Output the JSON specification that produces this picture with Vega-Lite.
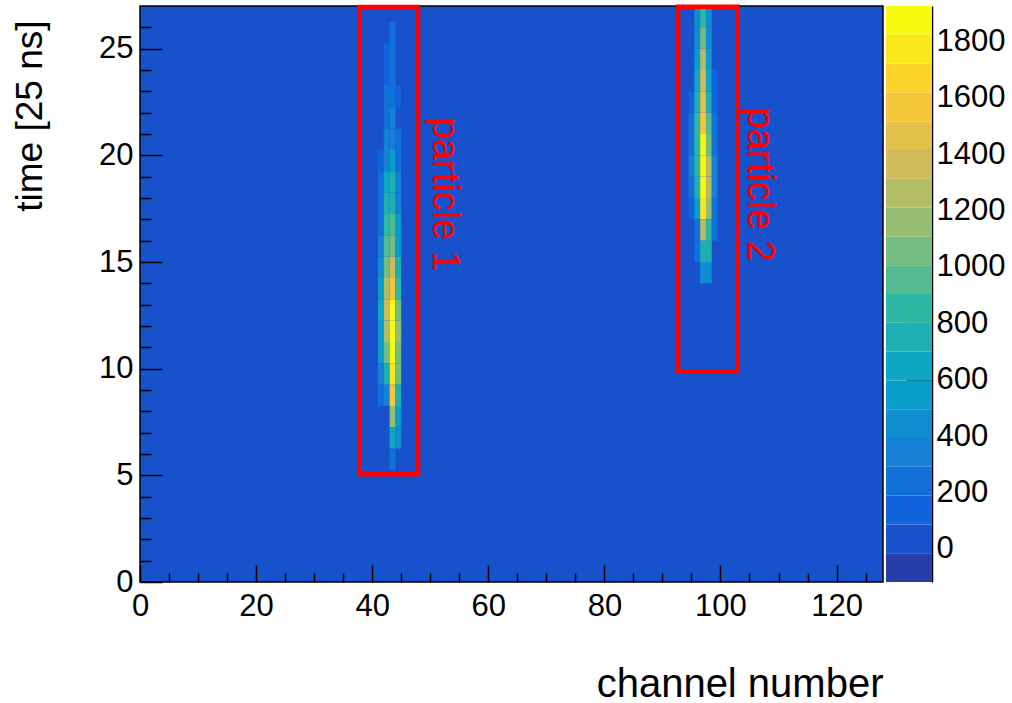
{
  "$schema": "https://vega.github.io/schema/vega-lite/v6.json",
  "background": "white",
  "padding": {"left": 10, "top": 3, "right": 12, "bottom": 6},
  "spacing": 2,
  "config": {
    "font": "Liberation Sans",
    "axis": {
      "labelFont": "Liberation Sans",
      "labelFontSize": 31,
      "labelColor": "#000000",
      "tickColor": "#000000",
      "tickWidth": 1.5,
      "domain": false,
      "grid": false,
      "titleFont": "Liberation Sans",
      "titleFontSize": 38,
      "titleFontWeight": "normal",
      "titleColor": "#000000",
      "labelFlush": false,
      "labelOverlap": false
    }
  },
  "datasets": {
    "cells": [
      {"ch_lo": 43, "ch_hi": 44, "t_lo": 25.25, "t_hi": 26.25, "adc": 230},
      {"ch_lo": 42, "ch_hi": 43, "t_lo": 24.25, "t_hi": 25.25, "adc": 120},
      {"ch_lo": 43, "ch_hi": 44, "t_lo": 24.25, "t_hi": 25.25, "adc": 255},
      {"ch_lo": 42, "ch_hi": 43, "t_lo": 23.25, "t_hi": 24.25, "adc": 150},
      {"ch_lo": 43, "ch_hi": 44, "t_lo": 23.25, "t_hi": 24.25, "adc": 270},
      {"ch_lo": 42, "ch_hi": 43, "t_lo": 22.25, "t_hi": 23.25, "adc": 205},
      {"ch_lo": 43, "ch_hi": 44, "t_lo": 22.25, "t_hi": 23.25, "adc": 280},
      {"ch_lo": 44, "ch_hi": 45, "t_lo": 22.25, "t_hi": 23.25, "adc": 110},
      {"ch_lo": 42, "ch_hi": 43, "t_lo": 21.25, "t_hi": 22.25, "adc": 265},
      {"ch_lo": 43, "ch_hi": 44, "t_lo": 21.25, "t_hi": 22.25, "adc": 320},
      {"ch_lo": 42, "ch_hi": 43, "t_lo": 20.25, "t_hi": 21.25, "adc": 330},
      {"ch_lo": 43, "ch_hi": 44, "t_lo": 20.25, "t_hi": 21.25, "adc": 370},
      {"ch_lo": 44, "ch_hi": 45, "t_lo": 20.25, "t_hi": 21.25, "adc": 215},
      {"ch_lo": 41, "ch_hi": 42, "t_lo": 19.25, "t_hi": 20.25, "adc": 130},
      {"ch_lo": 42, "ch_hi": 43, "t_lo": 19.25, "t_hi": 20.25, "adc": 360},
      {"ch_lo": 43, "ch_hi": 44, "t_lo": 19.25, "t_hi": 20.25, "adc": 580},
      {"ch_lo": 44, "ch_hi": 45, "t_lo": 19.25, "t_hi": 20.25, "adc": 250},
      {"ch_lo": 41, "ch_hi": 42, "t_lo": 18.25, "t_hi": 19.25, "adc": 200},
      {"ch_lo": 42, "ch_hi": 43, "t_lo": 18.25, "t_hi": 19.25, "adc": 680},
      {"ch_lo": 43, "ch_hi": 44, "t_lo": 18.25, "t_hi": 19.25, "adc": 760},
      {"ch_lo": 44, "ch_hi": 45, "t_lo": 18.25, "t_hi": 19.25, "adc": 345},
      {"ch_lo": 41, "ch_hi": 42, "t_lo": 17.25, "t_hi": 18.25, "adc": 235},
      {"ch_lo": 42, "ch_hi": 43, "t_lo": 17.25, "t_hi": 18.25, "adc": 735},
      {"ch_lo": 43, "ch_hi": 44, "t_lo": 17.25, "t_hi": 18.25, "adc": 790},
      {"ch_lo": 44, "ch_hi": 45, "t_lo": 17.25, "t_hi": 18.25, "adc": 375},
      {"ch_lo": 41, "ch_hi": 42, "t_lo": 16.25, "t_hi": 17.25, "adc": 275},
      {"ch_lo": 42, "ch_hi": 43, "t_lo": 16.25, "t_hi": 17.25, "adc": 880},
      {"ch_lo": 43, "ch_hi": 44, "t_lo": 16.25, "t_hi": 17.25, "adc": 990},
      {"ch_lo": 44, "ch_hi": 45, "t_lo": 16.25, "t_hi": 17.25, "adc": 560},
      {"ch_lo": 41, "ch_hi": 42, "t_lo": 15.25, "t_hi": 16.25, "adc": 310},
      {"ch_lo": 42, "ch_hi": 43, "t_lo": 15.25, "t_hi": 16.25, "adc": 960},
      {"ch_lo": 43, "ch_hi": 44, "t_lo": 15.25, "t_hi": 16.25, "adc": 1090},
      {"ch_lo": 44, "ch_hi": 45, "t_lo": 15.25, "t_hi": 16.25, "adc": 590},
      {"ch_lo": 41, "ch_hi": 42, "t_lo": 14.25, "t_hi": 15.25, "adc": 420},
      {"ch_lo": 42, "ch_hi": 43, "t_lo": 14.25, "t_hi": 15.25, "adc": 1070},
      {"ch_lo": 43, "ch_hi": 44, "t_lo": 14.25, "t_hi": 15.25, "adc": 1390},
      {"ch_lo": 44, "ch_hi": 45, "t_lo": 14.25, "t_hi": 15.25, "adc": 770},
      {"ch_lo": 41, "ch_hi": 42, "t_lo": 13.25, "t_hi": 14.25, "adc": 530},
      {"ch_lo": 42, "ch_hi": 43, "t_lo": 13.25, "t_hi": 14.25, "adc": 1280},
      {"ch_lo": 43, "ch_hi": 44, "t_lo": 13.25, "t_hi": 14.25, "adc": 1600},
      {"ch_lo": 44, "ch_hi": 45, "t_lo": 13.25, "t_hi": 14.25, "adc": 860},
      {"ch_lo": 41, "ch_hi": 42, "t_lo": 12.25, "t_hi": 13.25, "adc": 620},
      {"ch_lo": 42, "ch_hi": 43, "t_lo": 12.25, "t_hi": 13.25, "adc": 1340},
      {"ch_lo": 43, "ch_hi": 44, "t_lo": 12.25, "t_hi": 13.25, "adc": 1920},
      {"ch_lo": 44, "ch_hi": 45, "t_lo": 12.25, "t_hi": 13.25, "adc": 1040},
      {"ch_lo": 41, "ch_hi": 42, "t_lo": 11.25, "t_hi": 12.25, "adc": 570},
      {"ch_lo": 42, "ch_hi": 43, "t_lo": 11.25, "t_hi": 12.25, "adc": 1250},
      {"ch_lo": 43, "ch_hi": 44, "t_lo": 11.25, "t_hi": 12.25, "adc": 1900},
      {"ch_lo": 44, "ch_hi": 45, "t_lo": 11.25, "t_hi": 12.25, "adc": 1180},
      {"ch_lo": 41, "ch_hi": 42, "t_lo": 10.25, "t_hi": 11.25, "adc": 520},
      {"ch_lo": 42, "ch_hi": 43, "t_lo": 10.25, "t_hi": 11.25, "adc": 1030},
      {"ch_lo": 43, "ch_hi": 44, "t_lo": 10.25, "t_hi": 11.25, "adc": 1860},
      {"ch_lo": 44, "ch_hi": 45, "t_lo": 10.25, "t_hi": 11.25, "adc": 1090},
      {"ch_lo": 41, "ch_hi": 42, "t_lo": 9.25, "t_hi": 10.25, "adc": 380},
      {"ch_lo": 42, "ch_hi": 43, "t_lo": 9.25, "t_hi": 10.25, "adc": 780},
      {"ch_lo": 43, "ch_hi": 44, "t_lo": 9.25, "t_hi": 10.25, "adc": 1790},
      {"ch_lo": 44, "ch_hi": 45, "t_lo": 9.25, "t_hi": 10.25, "adc": 1020},
      {"ch_lo": 41, "ch_hi": 42, "t_lo": 8.25, "t_hi": 9.25, "adc": 250},
      {"ch_lo": 42, "ch_hi": 43, "t_lo": 8.25, "t_hi": 9.25, "adc": 330},
      {"ch_lo": 43, "ch_hi": 44, "t_lo": 8.25, "t_hi": 9.25, "adc": 1560},
      {"ch_lo": 44, "ch_hi": 45, "t_lo": 8.25, "t_hi": 9.25, "adc": 720},
      {"ch_lo": 43, "ch_hi": 44, "t_lo": 7.25, "t_hi": 8.25, "adc": 1180},
      {"ch_lo": 44, "ch_hi": 45, "t_lo": 7.25, "t_hi": 8.25, "adc": 540},
      {"ch_lo": 43, "ch_hi": 44, "t_lo": 6.25, "t_hi": 7.25, "adc": 660},
      {"ch_lo": 44, "ch_hi": 45, "t_lo": 6.25, "t_hi": 7.25, "adc": 470},
      {"ch_lo": 43, "ch_hi": 44, "t_lo": 5.25, "t_hi": 6.25, "adc": 260},

      {"ch_lo": 95.5, "ch_hi": 96.5, "t_lo": 26, "t_hi": 27, "adc": 430},
      {"ch_lo": 96.5, "ch_hi": 97.5, "t_lo": 26, "t_hi": 27, "adc": 870},
      {"ch_lo": 97.5, "ch_hi": 98.5, "t_lo": 26, "t_hi": 27, "adc": 460},
      {"ch_lo": 95.5, "ch_hi": 96.5, "t_lo": 25, "t_hi": 26, "adc": 470},
      {"ch_lo": 96.5, "ch_hi": 97.5, "t_lo": 25, "t_hi": 26, "adc": 1040},
      {"ch_lo": 97.5, "ch_hi": 98.5, "t_lo": 25, "t_hi": 26, "adc": 480},
      {"ch_lo": 95.5, "ch_hi": 96.5, "t_lo": 24, "t_hi": 25, "adc": 540},
      {"ch_lo": 96.5, "ch_hi": 97.5, "t_lo": 24, "t_hi": 25, "adc": 1250},
      {"ch_lo": 97.5, "ch_hi": 98.5, "t_lo": 24, "t_hi": 25, "adc": 560},
      {"ch_lo": 95.5, "ch_hi": 96.5, "t_lo": 23, "t_hi": 24, "adc": 640},
      {"ch_lo": 96.5, "ch_hi": 97.5, "t_lo": 23, "t_hi": 24, "adc": 1390},
      {"ch_lo": 97.5, "ch_hi": 98.5, "t_lo": 23, "t_hi": 24, "adc": 670},
      {"ch_lo": 98.5, "ch_hi": 99.5, "t_lo": 23, "t_hi": 24, "adc": 150},
      {"ch_lo": 94.5, "ch_hi": 95.5, "t_lo": 22, "t_hi": 23, "adc": 130},
      {"ch_lo": 95.5, "ch_hi": 96.5, "t_lo": 22, "t_hi": 23, "adc": 760},
      {"ch_lo": 96.5, "ch_hi": 97.5, "t_lo": 22, "t_hi": 23, "adc": 1500},
      {"ch_lo": 97.5, "ch_hi": 98.5, "t_lo": 22, "t_hi": 23, "adc": 780},
      {"ch_lo": 98.5, "ch_hi": 99.5, "t_lo": 22, "t_hi": 23, "adc": 170},
      {"ch_lo": 94.5, "ch_hi": 95.5, "t_lo": 21, "t_hi": 22, "adc": 220},
      {"ch_lo": 95.5, "ch_hi": 96.5, "t_lo": 21, "t_hi": 22, "adc": 850},
      {"ch_lo": 96.5, "ch_hi": 97.5, "t_lo": 21, "t_hi": 22, "adc": 1590},
      {"ch_lo": 97.5, "ch_hi": 98.5, "t_lo": 21, "t_hi": 22, "adc": 960},
      {"ch_lo": 98.5, "ch_hi": 99.5, "t_lo": 21, "t_hi": 22, "adc": 240},
      {"ch_lo": 94.5, "ch_hi": 95.5, "t_lo": 20, "t_hi": 21, "adc": 260},
      {"ch_lo": 95.5, "ch_hi": 96.5, "t_lo": 20, "t_hi": 21, "adc": 890},
      {"ch_lo": 96.5, "ch_hi": 97.5, "t_lo": 20, "t_hi": 21, "adc": 1880},
      {"ch_lo": 97.5, "ch_hi": 98.5, "t_lo": 20, "t_hi": 21, "adc": 1080},
      {"ch_lo": 98.5, "ch_hi": 99.5, "t_lo": 20, "t_hi": 21, "adc": 270},
      {"ch_lo": 94.5, "ch_hi": 95.5, "t_lo": 19, "t_hi": 20, "adc": 310},
      {"ch_lo": 95.5, "ch_hi": 96.5, "t_lo": 19, "t_hi": 20, "adc": 840},
      {"ch_lo": 96.5, "ch_hi": 97.5, "t_lo": 19, "t_hi": 20, "adc": 1910},
      {"ch_lo": 97.5, "ch_hi": 98.5, "t_lo": 19, "t_hi": 20, "adc": 1290},
      {"ch_lo": 98.5, "ch_hi": 99.5, "t_lo": 19, "t_hi": 20, "adc": 320},
      {"ch_lo": 94.5, "ch_hi": 95.5, "t_lo": 18, "t_hi": 19, "adc": 280},
      {"ch_lo": 95.5, "ch_hi": 96.5, "t_lo": 18, "t_hi": 19, "adc": 790},
      {"ch_lo": 96.5, "ch_hi": 97.5, "t_lo": 18, "t_hi": 19, "adc": 1850},
      {"ch_lo": 97.5, "ch_hi": 98.5, "t_lo": 18, "t_hi": 19, "adc": 1240},
      {"ch_lo": 98.5, "ch_hi": 99.5, "t_lo": 18, "t_hi": 19, "adc": 300},
      {"ch_lo": 94.5, "ch_hi": 95.5, "t_lo": 17, "t_hi": 18, "adc": 170},
      {"ch_lo": 95.5, "ch_hi": 96.5, "t_lo": 17, "t_hi": 18, "adc": 580},
      {"ch_lo": 96.5, "ch_hi": 97.5, "t_lo": 17, "t_hi": 18, "adc": 1760},
      {"ch_lo": 97.5, "ch_hi": 98.5, "t_lo": 17, "t_hi": 18, "adc": 1190},
      {"ch_lo": 98.5, "ch_hi": 99.5, "t_lo": 17, "t_hi": 18, "adc": 250},
      {"ch_lo": 95.5, "ch_hi": 96.5, "t_lo": 16, "t_hi": 17, "adc": 230},
      {"ch_lo": 96.5, "ch_hi": 97.5, "t_lo": 16, "t_hi": 17, "adc": 1230},
      {"ch_lo": 97.5, "ch_hi": 98.5, "t_lo": 16, "t_hi": 17, "adc": 830},
      {"ch_lo": 98.5, "ch_hi": 99.5, "t_lo": 16, "t_hi": 17, "adc": 200},
      {"ch_lo": 95.5, "ch_hi": 96.5, "t_lo": 15, "t_hi": 16, "adc": 210},
      {"ch_lo": 96.5, "ch_hi": 97.5, "t_lo": 15, "t_hi": 16, "adc": 740},
      {"ch_lo": 97.5, "ch_hi": 98.5, "t_lo": 15, "t_hi": 16, "adc": 710},
      {"ch_lo": 96.5, "ch_hi": 97.5, "t_lo": 14, "t_hi": 15, "adc": 450},
      {"ch_lo": 97.5, "ch_hi": 98.5, "t_lo": 14, "t_hi": 15, "adc": 420}
    ],
    "boxes": [
      {"ch_lo": 37.8, "ch_hi": 47.9, "t_lo": 5.05, "t_hi": 26.95},
      {"ch_lo": 92.7, "ch_hi": 102.9, "t_lo": 9.87, "t_hi": 26.96}
    ],
    "notes": [
      {"label": "particle 1", "ch": 50.4, "t": 21.77},
      {"label": "particle 2", "ch": 104.7, "t": 22.24}
    ],
    "bands": [
      {"lo": -118, "hi": -15.8, "mid": -66.9},
      {"lo": -15.8, "hi": 86.4, "mid": 35.3},
      {"lo": 86.4, "hi": 188.6, "mid": 137.5},
      {"lo": 188.6, "hi": 290.8, "mid": 239.7},
      {"lo": 290.8, "hi": 393, "mid": 341.9},
      {"lo": 393, "hi": 495.2, "mid": 444.1},
      {"lo": 495.2, "hi": 597.4, "mid": 546.3},
      {"lo": 597.4, "hi": 699.6, "mid": 648.5},
      {"lo": 699.6, "hi": 801.8, "mid": 750.7},
      {"lo": 801.8, "hi": 904, "mid": 852.9},
      {"lo": 904, "hi": 1006.2, "mid": 955.1},
      {"lo": 1006.2, "hi": 1108.4, "mid": 1057.3},
      {"lo": 1108.4, "hi": 1210.6, "mid": 1159.5},
      {"lo": 1210.6, "hi": 1312.8, "mid": 1261.7},
      {"lo": 1312.8, "hi": 1415, "mid": 1363.9},
      {"lo": 1415, "hi": 1517.2, "mid": 1466.1},
      {"lo": 1517.2, "hi": 1619.4, "mid": 1568.3},
      {"lo": 1619.4, "hi": 1721.6, "mid": 1670.5},
      {"lo": 1721.6, "hi": 1823.8, "mid": 1772.7},
      {"lo": 1823.8, "hi": 1926, "mid": 1874.9}
    ]
  },
  "resolve": {"scale": {"x": "independent", "y": "independent", "color": "independent"}},
  "hconcat": [
    {
      "width": 743,
      "height": 576,
      "view": {"fill": "#1751cb", "stroke": "#000000", "strokeWidth": 1.5},
      "resolve": {"axis": {"x": "independent", "y": "independent"}},
      "layer": [
        {
          "data": {"name": "cells"},
          "mark": {"type": "rect"},
          "encoding": {
            "x": {
              "field": "ch_lo", "type": "quantitative",
              "scale": {"domain": [0, 128], "nice": false, "zero": false},
              "axis": {
                "orient": "bottom", "values": [0, 20, 40, 60, 80, 100, 120],
                "tickSize": -17, "labelPadding": 26,
                "title": "channel number", "titleAnchor": "end", "titleAlign": "right",
                "titleBaseline": "alphabetic", "titleY": 114, "titleFontSize": 40
              }
            },
            "x2": {"field": "ch_hi"},
            "y": {
              "field": "t_lo", "type": "quantitative",
              "scale": {"domain": [0, 27], "nice": false, "zero": false},
              "axis": {
                "orient": "left", "values": [0, 5, 10, 15, 20, 25],
                "tickSize": -22, "labelPadding": 29,
                "title": "time [25 ns]", "titleAnchor": "end", "titleAngle": -90,
                "titleAlign": "right", "titleBaseline": "alphabetic",
                "titleX": -99, "titleY": 14, "titleFontSize": 37
              }
            },
            "y2": {"field": "t_hi"},
            "color": {
              "field": "adc", "type": "quantitative",
              "scale": {
                "type": "quantize", "domain": [-118, 1926], "nice": false,
                "range": ["#273da8", "#1751cb", "#1063dc", "#1271d9", "#1480d6", "#0e8ed1", "#099dcc", "#0da7c3", "#1eafb3", "#2eb7a4", "#53ba91", "#74bd80", "#96be71", "#b4bd65", "#d1bb59", "#e3c04a", "#f5c63a", "#fdd32a", "#fbe81c", "#f9fb0e"]
              },
              "legend": null
            }
          }
        },
        {
          "data": {"name": "boxes"},
          "mark": {"type": "rect", "filled": false, "stroke": "#ff0000", "strokeWidth": 4.5},
          "encoding": {
            "x": {
              "field": "ch_lo", "type": "quantitative",
              "scale": {"domain": [0, 128], "nice": false, "zero": false},
              "axis": {
                "orient": "bottom", "labels": false, "title": null, "tickSize": -9,
                "values": [5, 10, 15, 25, 30, 35, 45, 50, 55, 65, 70, 75, 85, 90, 95, 105, 110, 115, 125]
              }
            },
            "x2": {"field": "ch_hi"},
            "y": {
              "field": "t_lo", "type": "quantitative",
              "scale": {"domain": [0, 27], "nice": false, "zero": false},
              "axis": {
                "orient": "left", "labels": false, "title": null, "tickSize": -11,
                "values": [1, 2, 3, 4, 6, 7, 8, 9, 11, 12, 13, 14, 16, 17, 18, 19, 21, 22, 23, 24, 26]
              }
            },
            "y2": {"field": "t_hi"}
          }
        },
        {
          "data": {"name": "notes"},
          "mark": {"type": "text", "angle": 90, "align": "left", "baseline": "alphabetic", "color": "#ff0000", "font": "Liberation Sans", "fontSize": 38},
          "encoding": {
            "x": {"field": "ch", "type": "quantitative", "scale": {"domain": [0, 128], "nice": false, "zero": false}, "axis": null},
            "y": {"field": "t", "type": "quantitative", "scale": {"domain": [0, 27], "nice": false, "zero": false}, "axis": null},
            "text": {"field": "label"}
          }
        }
      ]
    },
    {
      "width": 46,
      "height": 576,
      "view": {"stroke": null},
      "data": {"name": "bands"},
      "mark": {"type": "rect"},
      "encoding": {
        "y": {
          "field": "lo", "type": "quantitative",
          "scale": {"domain": [-118, 1926], "nice": false, "zero": false},
          "axis": {
            "orient": "right", "values": [0, 200, 400, 600, 800, 1000, 1200, 1400, 1600, 1800],
            "format": "d", "tickSize": -26, "labelPadding": 30, "title": null,
            "domain": true, "domainColor": "#000000", "domainWidth": 1.5
          }
        },
        "y2": {"field": "hi"},
        "color": {
          "field": "mid", "type": "quantitative",
          "scale": {
            "type": "quantize", "domain": [-118, 1926], "nice": false,
            "range": ["#273da8", "#1751cb", "#1063dc", "#1271d9", "#1480d6", "#0e8ed1", "#099dcc", "#0da7c3", "#1eafb3", "#2eb7a4", "#53ba91", "#74bd80", "#96be71", "#b4bd65", "#d1bb59", "#e3c04a", "#f5c63a", "#fdd32a", "#fbe81c", "#f9fb0e"]
          },
          "legend": null
        }
      }
    }
  ]
}
